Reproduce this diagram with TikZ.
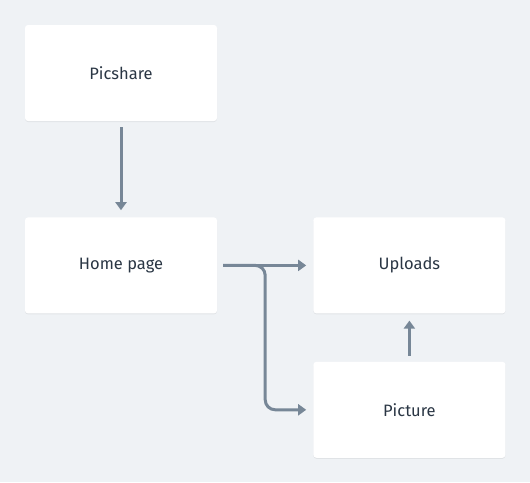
\documentclass[tikz,border=0pt]{standalone}
\usepackage{fontspec}
\setmainfont{Fira Sans}
\usepackage{xcolor}
\usepackage{tikz}
\usetikzlibrary{arrows.meta,positioning,calc,shadows}
\definecolor{fondo}{HTML}{EFF2F5}
\definecolor{trazo}{HTML}{778797}
\definecolor{texto}{HTML}{2A3644}
\tikzset{
  caja/.style   = {rectangle, rounded corners=3pt, fill=white, draw=none,
                   minimum width=192pt, minimum height=96pt, inner sep=0pt,
                   text=texto, font=\fontsize{16.5}{19}\selectfont,
                   drop shadow={shadow xshift=0pt, shadow yshift=-1pt,
                                fill=black, opacity=0.06}},
  flecha/.style = {-{Triangle[length=8pt,width=11pt]}, line width=3pt,
                   draw=trazo},
}
\begin{document}
\begin{tikzpicture}[x=1pt, y=1pt, node distance=96pt and 96pt]
    % --- fondo
    \fill[fondo] (0,0) rectangle (530,-482);

    % --- cajas
    \node[caja] (picshare) at (121,-73) {Picshare};
    \node[caja, below=of picshare] (home) {Home page};
    \node[caja, right=of home] (uploads) {Uploads};
    \node[caja, below=48pt of uploads] (picture) {Picture};

    % --- flechas
    \coordinate (split) at ($(home.east)!0.5!(uploads.west)$);
    \draw[flecha, shorten <=6pt, shorten >=7pt] (picshare) -- (home);
    \draw[flecha, shorten <=6pt, shorten >=7pt] (home.east) -- (uploads.west);
    \draw[flecha, rounded corners=10pt, shorten <=6pt, shorten >=7pt]
      (home.east) -- (split) |- (picture.west);
    \draw[flecha, shorten <=6pt, shorten >=7pt] (picture) -- (uploads);
\end{tikzpicture}
\end{document}
